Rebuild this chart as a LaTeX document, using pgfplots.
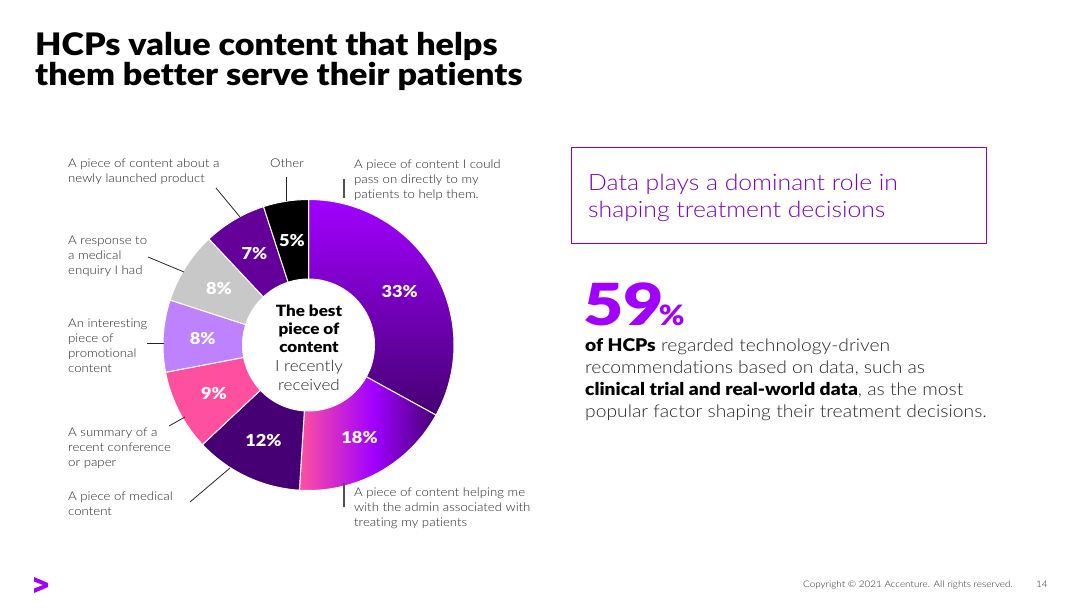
\documentclass[border=0pt]{standalone}
\usepackage{pgfplots}
\pgfplotsset{compat=1.18}
\usepackage{pgfplotstable}
\usepackage{fontspec}
\setmainfont{Lato}[UprightFont={* Light},BoldFont={* Black},FakeStretch=1.1,Ligatures=NoCommon]
\newfontfamily\bignum{Lato Black}[FakeStretch=1.2,Ligatures=NoCommon]
\definecolor{accpurple}{HTML}{A100FF}
\definecolor{accdark}{HTML}{460073}
\definecolor{accmid}{HTML}{640099}
\definecolor{accpink}{HTML}{FF50A0}
\definecolor{acclav}{HTML}{BE82FF}
\definecolor{accgray}{HTML}{C8C8C8}
\definecolor{txt}{HTML}{262626}
\definecolor{boxtxt}{HTML}{7800CC}
\pgfdeclarehorizontalshading{pinkpurple}{100bp}{color(0bp)=(accpink); color(25bp)=(accpink); color(52bp)=(accpurple); color(75bp)=(accdark); color(100bp)=(accdark)}
\tikzset{
 slice0/.style={top color=accpurple, bottom color=accdark},
 slice1/.style={shade, shading=pinkpurple},
 slice2/.style={fill=accdark},
 slice3/.style={fill=accpink},
 slice4/.style={fill=acclav},
 slice5/.style={fill=accgray},
 slice6/.style={fill=accmid},
 slice7/.style={fill=black},
 lab/.style={anchor=north west, inner sep=0pt, align=left, text=txt, font=\fontsize{12}{15}\selectfont},
 conn/.style={draw=txt, line width=0.8pt},
}
\newcommand\pct{\fontsize{16.5}{18}\selectfont\bfseries}
\pgfplotstableread{
value
33
18
12
9
8
8
7
5
}\slices
\def\rOut{145.5}
\def\rIn{66}
\def\rMid{106}
\begin{document}
\begin{tikzpicture}[x=1pt,y=1pt]
\useasboundingbox (0,0) rectangle (1080,-608);
% title
\node[anchor=base west, inner sep=0pt, align=left, font=\fontsize{31}{27}\selectfont\bfseries] at (35,-85) {HCPs value content that helps\\them better serve their patients};
% donut
\begin{axis}[at={(308.5,-345)}, anchor=center, x=1pt, y=1pt, xmin=-150, xmax=150, ymin=-150, ymax=150,
  hide axis, clip=false, disabledatascaling, scale only axis]
\def\cum{0}
\pgfplotsforeachungrouped \i in {0,...,7}{%
  \pgfplotstablegetelem{\i}{value}\of\slices
  \let\v=\pgfplotsretval
  \pgfmathsetmacro\a{90-3.6*\cum}%
  \pgfmathsetmacro\b{90-3.6*(\cum+\v)}%
  \pgfmathsetmacro\m{(\a+\b)/2}%
  \edef\temp{%
    \noexpand\path[slice\i, draw=white, line width=1pt]
      (axis cs:{\rOut*cos(\a)},{\rOut*sin(\a)}) arc[start angle=\a, end angle=\b, radius=\rOut pt]
      -- (axis cs:{\rIn*cos(\b)},{\rIn*sin(\b)}) arc[start angle=\b, end angle=\a, radius=\rIn pt] -- cycle;
    \noexpand\node[text=white, font=\noexpand\pct] at (axis cs:{\rMid*cos(\m)},{\rMid*sin(\m)}) {\v\noexpand\%};
  }%
  \temp
  \pgfmathsetmacro\cum{\cum+\v}%
}
\end{axis}
% centre text
\node[anchor=base, inner sep=0pt, font=\fontsize{15.5}{18}\selectfont\bfseries] at (309,-316) {The best};
\node[anchor=base, inner sep=0pt, font=\fontsize{15.5}{18}\selectfont\bfseries] at (309,-334) {piece of};
\node[anchor=base, inner sep=0pt, font=\fontsize{15.5}{18}\selectfont\bfseries] at (309,-352) {content};
\node[anchor=base, inner sep=0pt, text=txt, font=\fontsize{15.5}{18}\selectfont] at (309,-371) {I recently};
\node[anchor=base, inner sep=0pt, text=txt, font=\fontsize{15.5}{18}\selectfont] at (309,-390) {received};
% labels
\node[lab] at (68,-159) {A piece of content about a\\newly launched product};
\node[lab] at (270,-159) {Other};
\node[lab] at (354,-160) {A piece of content I could\\pass on directly to my\\patients to help them.};
\node[lab] at (68,-236) {A response to\\a medical\\enquiry I had};
\node[lab] at (68,-319) {An interesting\\piece of\\promotional\\content};
\node[lab] at (68,-428) {A summary of a\\recent conference\\or paper};
\node[lab] at (68,-492) {A piece of medical\\content};
\node[lab] at (354,-488) {A piece of content helping me\\with the admin associated with\\treating my patients};
% connectors
\draw[conn] (286,-177) -- (286,-201);
\draw[conn] (216,-188) -- (240,-217);
\draw[conn] (148,-257) -- (184,-272);
\draw[conn] (147,-343) -- (164,-343);
\draw[conn] (169,-426) -- (185,-417);
\draw[conn] (190,-502) -- (230,-468);
\draw[draw=txt!80, line width=1.5pt] (344,-179) -- (344,-198);
\draw[draw=txt!80, line width=1.5pt] (344,-483) -- (344,-507);
% right side
\draw[draw=accpurple!85!black, line width=1pt] (571,-147) rectangle (986,-243);
\node[anchor=base west, inner sep=0pt, text=boxtxt, font=\fontsize{22.5}{27}\selectfont] at (588,-190) {Data plays a dominant role in};
\node[anchor=base west, inner sep=0pt, text=boxtxt, font=\fontsize{22.5}{27}\selectfont] at (588,-217) {shaping treatment decisions};
\node[anchor=base west, inner sep=0pt, text=accpurple, font=\fontsize{58}{60}\bignum] at (583,-325) {59{\fontsize{28}{30}\selectfont\normalfont\bfseries\kern-5pt\%}};
\node[anchor=base west, inner sep=0pt, text=txt, font=\fontsize{17.5}{22}\selectfont] at (585,-351) {{\bfseries\color{black}of HCPs} regarded technology-driven};
\node[anchor=base west, inner sep=0pt, text=txt, font=\fontsize{17.5}{22}\selectfont] at (585,-373) {recommendations based on data, such as};
\node[anchor=base west, inner sep=0pt, text=txt, font=\fontsize{17.5}{22}\selectfont] at (585,-395) {{\bfseries\color{black}clinical trial and real-world data}, as the most};
\node[anchor=base west, inner sep=0pt, text=txt, font=\fontsize{17.5}{22}\selectfont] at (585,-417) {popular factor shaping their treatment decisions.};
% footer
\fill[accpurple] (34,-577) -- (48,-583) -- (48,-587) -- (34,-593) -- (34,-588.5) -- (43,-585) -- (34,-581.5) -- cycle;
\node[anchor=base west, inner sep=0pt, text=txt, font=\fontsize{9}{10}\selectfont] at (803,-587.5) {Copyright © 2021 Accenture. All rights reserved.};
\node[anchor=base west, inner sep=0pt, text=txt, font=\fontsize{9}{10}\selectfont] at (1036,-587.5) {14};
\end{tikzpicture}
\end{document}
